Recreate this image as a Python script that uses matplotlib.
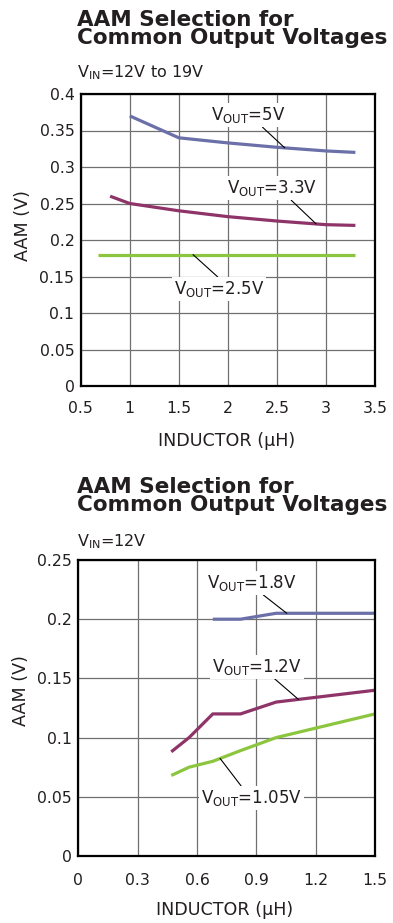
import numpy as np
import matplotlib
matplotlib.use("Agg")
import matplotlib.pyplot as plt

plt.rcParams["font.family"] = ["DejaVu Sans"]

# -----------------------------
# Datos: VIN = 12V a 19V
# -----------------------------
ind_5v = [1.0, 1.5, 2.0, 2.5, 3.0, 3.3]
aam_5v = [0.37, 0.34, 0.333, 0.327, 0.322, 0.32]

ind_33v = [0.8, 1.0, 1.5, 2.0, 2.5, 3.0, 3.3]
aam_33v = [0.26, 0.25, 0.24, 0.232, 0.226, 0.221, 0.22]

ind_25v = [0.68, 3.3]
aam_25v = [0.18, 0.18]

# -----------------------------
# Datos: VIN = 12V
# -----------------------------
ind_18v = [0.68, 0.82, 1.0, 1.5]
aam_18v = [0.2, 0.2, 0.205, 0.205]

ind_12v = [0.47, 0.56, 0.68, 0.82, 1.0, 1.5]
aam_12v = [0.088, 0.1, 0.12, 0.12, 0.13, 0.14]

ind_105v = [0.47, 0.56, 0.68, 0.82, 1.0, 1.5]
aam_105v = [0.068, 0.075, 0.08, 0.089, 0.1, 0.12]

xticks_top = [0.5, 1, 1.5, 2, 2.5, 3, 3.5]
yticks_top = [0, 0.05, 0.1, 0.15, 0.2, 0.25, 0.3, 0.35, 0.4]
xticks_bot = [0, 0.3, 0.6, 0.9, 1.2, 1.5]
yticks_bot = [0, 0.05, 0.1, 0.15, 0.2, 0.25]

AZUL = "#6b70a8"
MAGENTA = "#8e3468"
VERDE = "#8cc63f"
TEXTO = "#231f20"

W, H = 393, 923
fig = plt.figure(figsize=(W / 100, H / 100), dpi=100)


def caja(left, top, right, bottom):
    return [left / W, 1 - bottom / H, (right - left) / W, (bottom - top) / H]


def fmt(v):
    return "0" if v == 0 else ("%g" % v)


def preparar(ax, xt, yt, xpad, ypad):
    ax.set_xlim(xt[0], xt[-1])
    ax.set_ylim(yt[0], yt[-1])
    ax.set_xticks(xt)
    ax.set_yticks(yt)
    ax.set_xticklabels([fmt(v) for v in xt])
    ax.set_yticklabels([fmt(v) for v in yt])
    ax.tick_params(length=0, labelsize=11.3, colors=TEXTO)
    ax.tick_params(axis="x", pad=xpad)
    ax.tick_params(axis="y", pad=ypad)
    ax.grid(True, color="#707070", linewidth=0.9)
    ax.set_axisbelow(True)
    for s in ax.spines.values():
        s.set_linewidth(1.6)
        s.set_color("black")
        s.set_zorder(5)


def etiqueta(ax, texto, pos, xs, ys, xp, relpos):
    xy = (xp, np.interp(xp, xs, ys))
    ax.annotate(texto, xy=xy, xytext=pos, ha="center", va="center",
                fontsize=12, color=TEXTO,
                bbox=dict(boxstyle="square,pad=0.12", fc="white", ec="none"),
                arrowprops=dict(arrowstyle="-", color="black", lw=0.8,
                                shrinkA=0, shrinkB=0, relpos=relpos),
                zorder=4)


def titulo(y2, sub, ysub):
    # y2 = línea base de la segunda línea del título
    fig.text(77 / W, 1 - y2 / H, "AAM Selection for\nCommon Output Voltages",
             fontsize=15.5, fontweight="bold", va="baseline", ha="left",
             linespacing=0.86, color=TEXTO)
    fig.text(77 / W, 1 - ysub / H, sub, fontsize=11.5, va="baseline",
             color=TEXTO)


# -----------------------------
# Gráfico superior
# -----------------------------
titulo(44, r"$\mathregular{V_{IN}}$=12V to 19V", 77)
ax1 = fig.add_axes(caja(80.7, 94, 375, 386))
preparar(ax1, xticks_top, yticks_top, 11, 4.5)
ax1.plot(ind_5v, aam_5v, color=AZUL, lw=2.3, solid_capstyle="butt", zorder=3)
ax1.plot(ind_33v, aam_33v, color=MAGENTA, lw=2.3, solid_capstyle="butt", zorder=3)
ax1.plot(ind_25v, aam_25v, color=VERDE, lw=2.3, solid_capstyle="butt", zorder=3)
etiqueta(ax1, r"$\mathregular{V_{OUT}}$=5V", (2.21, 0.371), ind_5v, aam_5v, 2.58, (0.66, 0))
etiqueta(ax1, r"$\mathregular{V_{OUT}}$=3.3V", (2.45, 0.271), ind_33v, aam_33v, 2.9, (0.69, 0))
etiqueta(ax1, r"$\mathregular{V_{OUT}}$=2.5V", (1.91, 0.133), ind_25v, aam_25v, 1.645, (0.51, 1))
ax1.set_xlabel("INDUCTOR (µH)", fontsize=12.6, color=TEXTO)
ax1.xaxis.set_label_coords(0.494, -0.158)
ax1.set_ylabel("AAM (V)", fontsize=12.6, color=TEXTO)
ax1.yaxis.set_label_coords(-0.165, 0.551)

# -----------------------------
# Gráfico inferior
# -----------------------------
titulo(511, r"$\mathregular{V_{IN}}$=12V", 546)
ax2 = fig.add_axes(caja(78.3, 560, 375, 856))
preparar(ax2, xticks_bot, yticks_bot, 12, 4.5)
ax2.plot(ind_18v, aam_18v, color=AZUL, lw=2.3, solid_capstyle="butt", zorder=3)
ax2.plot(ind_12v, aam_12v, color=MAGENTA, lw=2.3, solid_capstyle="butt", zorder=3)
ax2.plot(ind_105v, aam_105v, color=VERDE, lw=2.3, solid_capstyle="butt", zorder=3)
etiqueta(ax2, r"$\mathregular{V_{OUT}}$=1.8V", (0.877, 0.2306), ind_18v, aam_18v, 1.054, (0.6, 0))
etiqueta(ax2, r"$\mathregular{V_{OUT}}$=1.2V", (0.9025, 0.16), ind_12v, aam_12v, 1.113, (0.67, 0))
etiqueta(ax2, r"$\mathregular{V_{OUT}}$=1.05V", (0.877, 0.049), ind_105v, aam_105v, 0.717, (0.41, 1))
ax2.set_xlabel("INDUCTOR (µH)", fontsize=12.6, color=TEXTO)
ax2.xaxis.set_label_coords(0.494, -0.152)
ax2.set_ylabel("AAM (V)", fontsize=12.6, color=TEXTO)
ax2.yaxis.set_label_coords(-0.163, 0.56)

fig.savefig("out.png", dpi=100)
